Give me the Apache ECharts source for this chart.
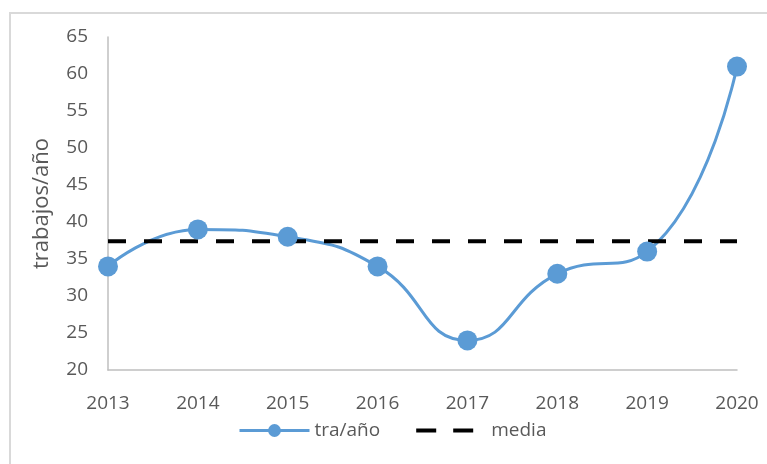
<!DOCTYPE html>
<html>
<head>
<meta charset="utf-8">
<script src="https://cdn.jsdelivr.net/npm/echarts@6/dist/echarts.min.js"></script>
<style>
  html, body { margin: 0; padding: 0; background: #fff; }
  #chart { width: 767px; height: 464px; }
</style>
</head>
<body>
<div id="chart"></div>
<script>
// datos
var years = ["2013", "2014", "2015", "2016", "2017", "2018", "2019", "2020"];
var trabajos = [34, 39, 38, 34, 24, 33, 36, 61];
var media = [37.4, 37.4, 37.4, 37.4, 37.4, 37.4, 37.4, 37.4];

var gris = "#595959";
var fuente = "Open Sans";
// icono de leyenda: dos trazos, caja de 70x16
var iconoMedia = "path://M0,0h0.01v0.01h-0.01z M0,6h20v4h-20z M37,6h20v4h-20z M69.99,15.99h0.01v0.01h-0.01z";

var chart = echarts.init(document.getElementById("chart"));

chart.setOption({
  animation: false,
  backgroundColor: "#fff",
  textStyle: { fontFamily: fuente },
  graphic: [{
    type: "rect",
    shape: { x: 10, y: 13, width: 800, height: 500 },
    style: { fill: "none", stroke: "#d9d9d9", lineWidth: 2 },
    silent: true
  }],
  grid: { left: 108, right: 30, top: 37, bottom: 94 },
  legend: {
    left: 233,
    top: 416,
    itemWidth: 70,
    itemHeight: 16,
    itemGap: 36,
    textStyle: { color: gris, fontSize: 19, fontFamily: fuente },
    data: [
      { name: "tra/año", lineStyle: { width: 3 } },
      { name: "media", icon: iconoMedia }
    ]
  },
  xAxis: {
    type: "category",
    data: years,
    boundaryGap: false,
    axisLine: { lineStyle: { color: "#bfbfbf", width: 1.5 } },
    axisTick: { show: false },
    axisLabel: { color: gris, fontSize: 19, margin: 24, fontFamily: fuente }
  },
  yAxis: {
    type: "value",
    min: 20,
    max: 65,
    interval: 5,
    name: "trabajos/año",
    nameLocation: "middle",
    nameRotate: 90,
    nameGap: 55,
    nameTextStyle: { color: gris, fontSize: 22, fontFamily: fuente },
    axisLine: { show: true, lineStyle: { color: "#bfbfbf", width: 1.5 } },
    axisTick: { show: false },
    splitLine: { show: false },
    axisLabel: { color: gris, fontSize: 19, margin: 20, fontFamily: fuente }
  },
  series: [
    {
      name: "tra/año",
      type: "line",
      data: trabajos,
      smooth: 0.5,
      symbol: "circle",
      symbolSize: 20,
      itemStyle: { color: "#5b9bd5" },
      lineStyle: { color: "#5b9bd5", width: 3 }
    },
    {
      name: "media",
      type: "line",
      data: media,
      symbol: "none",
      itemStyle: { color: "#000" },
      lineStyle: { color: "#000", width: 4, type: [18, 18] }
    }
  ]
});
</script>
</body>
</html>
